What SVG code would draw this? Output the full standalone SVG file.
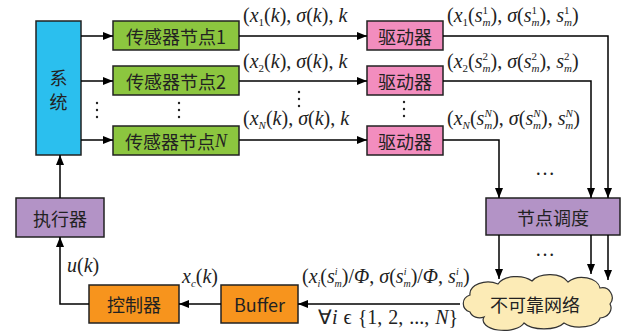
<svg xmlns="http://www.w3.org/2000/svg" width="624" height="334" viewBox="0 0 624 334">
<defs>
<marker id="ah" viewBox="0 0 10 8" refX="10" refY="4" markerWidth="10" markerHeight="8" markerUnits="userSpaceOnUse" orient="auto">
<path d="M0,0 L10,4 L0,8 z" fill="#000"/>
</marker>
</defs>
<style>
.box{stroke:#222;stroke-width:1.5}
.sys{fill:#2BBFEE}
.sen{fill:#8CC63F}
.drv{fill:#F28DBE}
.pur{fill:#B393C6}
.org{fill:#F7941D}
.cn{font-family:"Noto Sans CJK SC",sans-serif;font-size:18px;fill:#222;text-anchor:middle;dominant-baseline:central}
.m{font-family:"Liberation Serif",serif;font-size:20px;fill:#222}
.i{font-style:italic}
.s{font-size:11px}
.ln{fill:none;stroke:#000;stroke-width:1.5}
.ar{marker-end:url(#ah)}
.dot{fill:#222}
</style>

<g id="system"><rect class="box sys" x="36" y="21" width="45" height="134"/><text class="cn" x="58.5" y="77" font-size="20">系</text><text class="cn" x="58.5" y="101" font-size="20">统</text></g>
<g id="sensor1"><rect class="box sen" x="113" y="21" width="126" height="29"/><text class="cn" x="176" y="36">传感器节点1</text></g>
<g id="sensor2"><rect class="box sen" x="113" y="66" width="126" height="29"/><text class="cn" x="176" y="81">传感器节点2</text></g>
<g id="sensorN"><rect class="box sen" x="113" y="126" width="126" height="29"/><text class="cn" x="176" y="141">传感器节点<tspan font-family="Liberation Serif" font-style="italic">N</tspan></text></g>
<g id="driver1"><rect class="box drv" x="367" y="21" width="76" height="29"/><text class="cn" x="405" y="36">驱动器</text></g>
<g id="driver2"><rect class="box drv" x="367" y="66" width="76" height="29"/><text class="cn" x="405" y="81">驱动器</text></g>
<g id="driverN"><rect class="box drv" x="367" y="126" width="76" height="29"/><text class="cn" x="405" y="141">驱动器</text></g>
<g id="schedule"><rect class="box pur" x="486" y="198" width="134" height="37"/><text class="cn" x="553" y="217" font-size="19">节点调度</text></g>
<g id="actuator"><rect class="box pur" x="16" y="198" width="88" height="39"/><text class="cn" x="60" y="218" font-size="19">执行器</text></g>
<g id="controller"><rect class="box org" x="89" y="285" width="90" height="38"/><text class="cn" x="134" y="304" font-size="19">控制器</text></g>
<g id="buffer"><rect class="box org" x="221" y="285" width="77" height="38"/><text class="cn" x="259.5" y="304" font-family="Liberation Serif" font-size="20">Buffer</text></g>
<g id="network"><path d="M470 312 a10 9 0 0 1 0 -17 a18 12 0 0 1 28 -11 a20 12 0 0 1 34 -3 a20 12 0 0 1 36 1 a18 12 0 0 1 32 6 a10 10 0 0 1 10 16 a12 10 0 0 1 -10 14 a20 10 0 0 1 -36 5 a22 10 0 0 1 -40 0 a20 10 0 0 1 -40 -6 a10 8 0 0 1 -14 -5 z" fill="#FCEBB6" stroke="#333" stroke-width="1.2"/><text class="cn" x="535" y="304" font-size="21">不可靠网络</text></g>

<g id="connectors">
<line class="ln ar" x1="81" y1="36" x2="113" y2="36"/>
<line class="ln ar" x1="81" y1="81" x2="113" y2="81"/>
<line class="ln ar" x1="81" y1="140" x2="113" y2="140"/>
<line class="ln ar" x1="239" y1="36" x2="367" y2="36"/>
<line class="ln ar" x1="239" y1="81" x2="367" y2="81"/>
<line class="ln ar" x1="239" y1="140" x2="367" y2="140"/>
<polyline class="ln ar" points="443,36 608,36 608,198"/>
<polyline class="ln ar" points="443,81 591,81 591,198"/>
<polyline class="ln ar" points="443,140 499,140 499,198"/>
<line class="ln ar" x1="499" y1="235" x2="499" y2="279"/>
<line class="ln ar" x1="591" y1="235" x2="591" y2="274"/>
<line class="ln ar" x1="608" y1="235" x2="608" y2="280"/>
<line class="ln ar" x1="460" y1="304" x2="298" y2="304"/>
<line class="ln ar" x1="221" y1="304" x2="179" y2="304"/>
<polyline class="ln ar" points="89,304 60,304 60,237"/>
<line class="ln ar" x1="60" y1="198" x2="60" y2="155"/>
</g>

<g id="dots">
<circle class="dot" cx="97" cy="103" r="1.2"/><circle class="dot" cx="97" cy="110" r="1.2"/><circle class="dot" cx="97" cy="117" r="1.2"/>
<circle class="dot" cx="179" cy="103" r="1.2"/><circle class="dot" cx="179" cy="110" r="1.2"/><circle class="dot" cx="179" cy="117" r="1.2"/>
<circle class="dot" cx="299" cy="92" r="1.2"/><circle class="dot" cx="299" cy="99" r="1.2"/><circle class="dot" cx="299" cy="106" r="1.2"/>
<circle class="dot" cx="404" cy="102" r="1.2"/><circle class="dot" cx="404" cy="109" r="1.2"/><circle class="dot" cx="404" cy="116" r="1.2"/>
<text class="m" x="545" y="175" text-anchor="middle">…</text>
<text class="m" x="545" y="256" text-anchor="middle">…</text>
</g>

<g id="labels">
<text class="m" x="243" y="22">(<tspan class="i">x</tspan><tspan class="s" dy="4">1</tspan><tspan dy="-4">(</tspan><tspan class="i">k</tspan>), <tspan class="i">σ</tspan>(<tspan class="i">k</tspan>), <tspan class="i">k</tspan></text>
<text class="m" x="243" y="68">(<tspan class="i">x</tspan><tspan class="s" dy="4">2</tspan><tspan dy="-4">(</tspan><tspan class="i">k</tspan>), <tspan class="i">σ</tspan>(<tspan class="i">k</tspan>), <tspan class="i">k</tspan></text>
<text class="m" x="243" y="125">(<tspan class="i">x</tspan><tspan class="s i" dy="4">N</tspan><tspan dy="-4">(</tspan><tspan class="i">k</tspan>), <tspan class="i">σ</tspan>(<tspan class="i">k</tspan>), <tspan class="i">k</tspan></text>

<text class="m" x="447" y="22">(<tspan class="i">x</tspan><tspan class="s" dy="4">1</tspan><tspan dy="-4">(</tspan><tspan class="i">s</tspan><tspan class="s" dy="-8">1</tspan><tspan class="s i" dx="-5.5" dy="12">m</tspan><tspan dy="-4">), </tspan><tspan class="i">σ</tspan>(<tspan class="i">s</tspan><tspan class="s" dy="-8">1</tspan><tspan class="s i" dx="-5.5" dy="12">m</tspan><tspan dy="-4">), </tspan><tspan class="i">s</tspan><tspan class="s" dy="-8">1</tspan><tspan class="s i" dx="-5.5" dy="12">m</tspan><tspan dy="-4">)</tspan></text>
<text class="m" x="447" y="68">(<tspan class="i">x</tspan><tspan class="s" dy="4">2</tspan><tspan dy="-4">(</tspan><tspan class="i">s</tspan><tspan class="s" dy="-8">2</tspan><tspan class="s i" dx="-5.5" dy="12">m</tspan><tspan dy="-4">), </tspan><tspan class="i">σ</tspan>(<tspan class="i">s</tspan><tspan class="s" dy="-8">2</tspan><tspan class="s i" dx="-5.5" dy="12">m</tspan><tspan dy="-4">), </tspan><tspan class="i">s</tspan><tspan class="s" dy="-8">2</tspan><tspan class="s i" dx="-5.5" dy="12">m</tspan><tspan dy="-4">)</tspan></text>
<text class="m" x="447" y="125">(<tspan class="i">x</tspan><tspan class="s i" dy="4">N</tspan><tspan dy="-4">(</tspan><tspan class="i">s</tspan><tspan class="s i" dy="-8">N</tspan><tspan class="s i" dx="-7.5" dy="12">m</tspan><tspan dy="-4">), </tspan><tspan class="i">σ</tspan>(<tspan class="i">s</tspan><tspan class="s i" dy="-8">N</tspan><tspan class="s i" dx="-7.5" dy="12">m</tspan><tspan dy="-4">), </tspan><tspan class="i">s</tspan><tspan class="s i" dy="-8">N</tspan><tspan class="s i" dx="-7.5" dy="12">m</tspan><tspan dy="-4">)</tspan></text>

<text class="m" x="302" y="283" font-size="18">(<tspan class="i">x</tspan><tspan font-size="10" class="i" dy="4">i</tspan><tspan dy="-4">(</tspan><tspan class="i">s</tspan><tspan font-size="10" class="i" dy="-8">i</tspan><tspan font-size="10" class="i" dx="-3" dy="12">m</tspan><tspan dy="-4">)/</tspan><tspan class="i">Φ</tspan>, <tspan class="i">σ</tspan>(<tspan class="i">s</tspan><tspan font-size="10" class="i" dy="-8">i</tspan><tspan font-size="10" class="i" dx="-3" dy="12">m</tspan><tspan dy="-4">)/</tspan><tspan class="i">Φ</tspan>, <tspan class="i">s</tspan><tspan font-size="10" class="i" dy="-8">i</tspan><tspan font-size="10" class="i" dx="-3" dy="12">m</tspan><tspan dy="-4">)</tspan></text>
<text class="m" x="318" y="324" word-spacing="1">∀<tspan class="i">i</tspan> ϵ {1, 2, ..., <tspan class="i">N</tspan>}</text>
<text class="m" x="182" y="283"><tspan class="i">x</tspan><tspan class="s i" dy="4">c</tspan><tspan dy="-4">(</tspan><tspan class="i">k</tspan>)</text>
<text class="m" x="67" y="272"><tspan class="i">u</tspan>(<tspan class="i">k</tspan>)</text>
</g>
</svg>
